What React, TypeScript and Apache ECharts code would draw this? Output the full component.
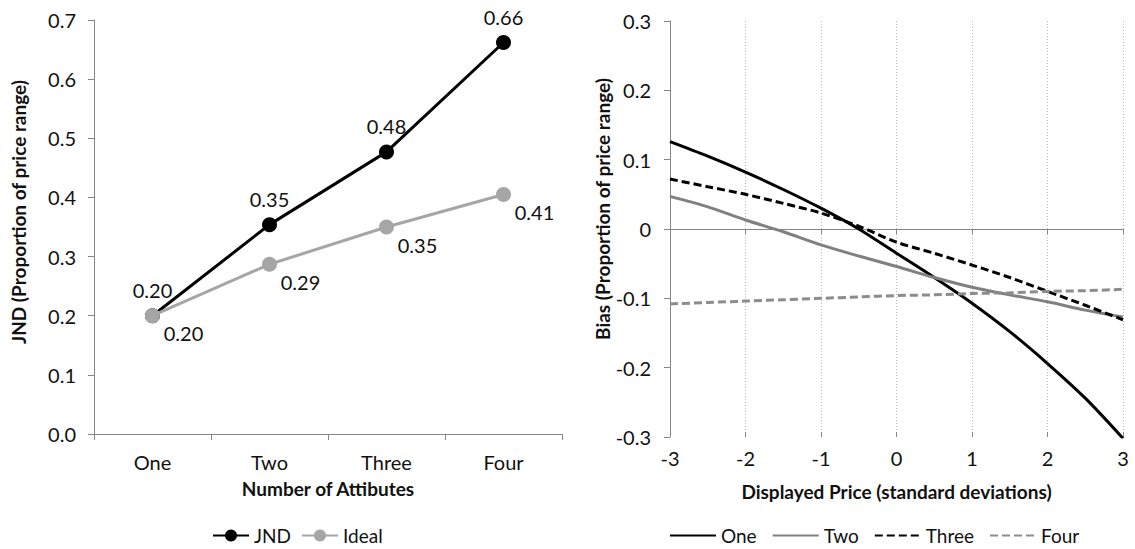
import React, { useEffect, useRef } from "react";
import * as echarts from "echarts";

// ---------- Left chart data ----------
const attributeCategories = ["One", "Two", "Three", "Four"];
const jndValues = [0.2, 0.354, 0.477, 0.662];
const idealValues = [0.2, 0.287, 0.35, 0.405];
const leftYTicks = { min: 0, max: 0.7, interval: 0.1 };

// ---------- Right chart data ----------
const priceSD = [-3, -2.5, -2, -1.5, -1, -0.5, 0, 0.5, 1, 1.5, 2, 2.5, 3];
const biasOne = [0.126, 0.105, 0.082, 0.057, 0.03, 0.0, -0.035, -0.07, -0.107, -0.148, -0.194, -0.244, -0.302];
const biasTwo = [0.047, 0.032, 0.013, -0.004, -0.023, -0.039, -0.054, -0.07, -0.084, -0.095, -0.105, -0.117, -0.127];
const biasThree = [0.072, 0.061, 0.05, 0.037, 0.023, 0.004, -0.019, -0.035, -0.052, -0.07, -0.09, -0.11, -0.131];
const biasFour = [-0.108, -0.106, -0.104, -0.102, -0.1, -0.098, -0.096, -0.095, -0.093, -0.092, -0.09, -0.089, -0.087];
const rightXTicks = { min: -3, max: 3, interval: 1 };
const rightYTicks = { min: -0.3, max: 0.3, interval: 0.1 };

const FONT = "Lato";
const AXIS_GRAY = "#868686";
const TEXT = "#111";

const pair = (xs: number[], ys: number[]) => xs.map((x, i) => [x, ys[i]]);

export default function App() {
  const ref = useRef<HTMLDivElement>(null);
  useEffect(() => {
    if (!ref.current) return;
    const chart = echarts.init(ref.current, undefined, { renderer: "svg" });
    const tickLabel = { color: TEXT, fontFamily: FONT, fontSize: 20 };
    const titleStyle = { color: TEXT, fontFamily: FONT, fontSize: 19, fontWeight: "bold" as const };
    const option: any = {
      animation: false,
      backgroundColor: "#fff",
      textStyle: { fontFamily: FONT },
      grid: [
        { left: 94, top: 20, width: 468, height: 414 },
        { left: 670, top: 21, width: 453, height: 416 },
      ],
      xAxis: [
        {
          type: "category",
          gridIndex: 0,
          data: attributeCategories,
          boundaryGap: true,
          axisLine: { lineStyle: { color: AXIS_GRAY, width: 1 } },
          axisTick: { show: true, length: 6, lineStyle: { color: AXIS_GRAY } },
          axisLabel: { ...tickLabel, margin: 18 },
          splitLine: { show: false },
          name: "Number of Attibutes",
          nameLocation: "middle",
          nameGap: 45,
          nameTextStyle: titleStyle,
        },
        {
          type: "value",
          gridIndex: 1,
          position: "bottom",
          ...rightXTicks,
          axisLine: { show: false, onZero: false },
          axisTick: { show: false },
          axisLabel: { ...tickLabel, margin: 11 },
          splitLine: { show: true, lineStyle: { color: "#b8b8b8", type: [1, 2], width: 1 } },
          name: "Displayed Price (standard deviations)",
          nameLocation: "middle",
          nameGap: 45,
          nameTextStyle: titleStyle,
        },
        {
          type: "value",
          gridIndex: 1,
          position: "bottom",
          ...rightXTicks,
          axisLine: { show: true, onZero: true, lineStyle: { color: AXIS_GRAY, width: 1 } },
          axisTick: { show: true, length: 5, inside: false, lineStyle: { color: AXIS_GRAY } },
          axisLabel: { show: false },
          splitLine: { show: false },
        },
        {
          type: "value",
          gridIndex: 1,
          position: "bottom",
          ...rightXTicks,
          axisLine: { show: false, onZero: true },
          axisTick: { show: true, length: 5, inside: true, lineStyle: { color: AXIS_GRAY } },
          axisLabel: { show: false },
          splitLine: { show: false },
        },
      ],
      yAxis: [
        {
          type: "value",
          gridIndex: 0,
          ...leftYTicks,
          axisLine: { show: true, lineStyle: { color: AXIS_GRAY, width: 1 } },
          axisTick: { show: true, length: 6, lineStyle: { color: AXIS_GRAY } },
          axisLabel: { ...tickLabel, margin: 18, formatter: (v: number) => v.toFixed(1) },
          splitLine: { show: false },
          name: "JND (Proportion of price range)",
          nameLocation: "middle",
          nameGap: 66,
          nameRotate: 90,
          nameTextStyle: { ...titleStyle, padding: [0, 0, 0, 30] },
        },
        {
          type: "value",
          gridIndex: 1,
          ...rightYTicks,
          axisLine: { show: true, onZero: false, lineStyle: { color: AXIS_GRAY, width: 1 } },
          axisTick: { show: true, length: 6, lineStyle: { color: AXIS_GRAY } },
          axisLabel: {
            ...tickLabel,
            margin: 19,
            formatter: (v: number) => (Math.abs(v) < 1e-9 ? "0" : v.toFixed(1)),
          },
          splitLine: { show: false },
          name: "Bias (Proportion of price range)",
          nameLocation: "middle",
          nameGap: 57,
          nameRotate: 90,
          nameTextStyle: { ...titleStyle, padding: [0, 0, 0, 40] },
        },
      ],
      legend: [
        {
          left: 207,
          top: 521,
          itemWidth: 36,
          itemHeight: 15,
          itemGap: 10,
          textStyle: { color: TEXT, fontFamily: FONT, fontSize: 19 },
          data: ["JND", "Ideal"],
        },
        {
          left: 664,
          top: 521,
          itemWidth: 46,
          itemHeight: 14,
          itemGap: 15,
          itemStyle: { opacity: 0 },
          textStyle: { color: TEXT, fontFamily: FONT, fontSize: 19 },
          data: ["One", "Two", "Three", "Four"],
        },
      ],
      series: [
        {
          name: "JND",
          type: "line",
          xAxisIndex: 0,
          yAxisIndex: 0,
          data: jndValues,
          symbol: "circle",
          symbolSize: 15,
          lineStyle: { color: "#000", width: 3 },
          itemStyle: { color: "#000" },
          label: {
            show: true,
            position: "top",
            distance: 8,
            color: TEXT,
            fontFamily: FONT,
            fontSize: 20,
            formatter: (p: any) => Number(p.value).toFixed(2),
          },
          z: 3,
        },
        {
          name: "Ideal",
          type: "line",
          xAxisIndex: 0,
          yAxisIndex: 0,
          data: idealValues,
          symbol: "circle",
          symbolSize: 15,
          lineStyle: { color: "#a6a6a6", width: 3 },
          itemStyle: { color: "#a6a6a6" },
          label: {
            show: true,
            position: "bottom",
            distance: 0,
            offset: [31, 0],
            color: TEXT,
            fontFamily: FONT,
            fontSize: 20,
            formatter: (p: any) => Number(p.value).toFixed(2),
          },
          z: 4,
        },
        {
          name: "One",
          type: "line",
          xAxisIndex: 1,
          yAxisIndex: 1,
          data: pair(priceSD, biasOne),
          symbol: "none",
          smooth: 0.3,
          lineStyle: { color: "#000", width: 3 },
          itemStyle: { color: "#000" },
        },
        {
          name: "Two",
          type: "line",
          xAxisIndex: 1,
          yAxisIndex: 1,
          data: pair(priceSD, biasTwo),
          symbol: "none",
          smooth: 0.3,
          lineStyle: { color: "#808080", width: 3 },
          itemStyle: { color: "#808080" },
        },
        {
          name: "Three",
          type: "line",
          xAxisIndex: 1,
          yAxisIndex: 1,
          data: pair(priceSD, biasThree),
          symbol: "none",
          smooth: 0.3,
          lineStyle: { color: "#000", width: 3, type: [8, 4] },
          itemStyle: { color: "#000" },
        },
        {
          name: "Four",
          type: "line",
          xAxisIndex: 1,
          yAxisIndex: 1,
          data: pair(priceSD, biasFour),
          symbol: "none",
          smooth: 0.3,
          lineStyle: { color: "#8c8c8c", width: 3, type: [8, 4] },
          itemStyle: { color: "#8c8c8c" },
        },
      ],
    };
    chart.setOption(option);
    return () => chart.dispose();
  }, []);
  return (
    <div
      ref={ref}
      style={{ position: "fixed", left: 0, top: 0, width: 1135, height: 549, background: "#fff" }}
    />
  );
}
